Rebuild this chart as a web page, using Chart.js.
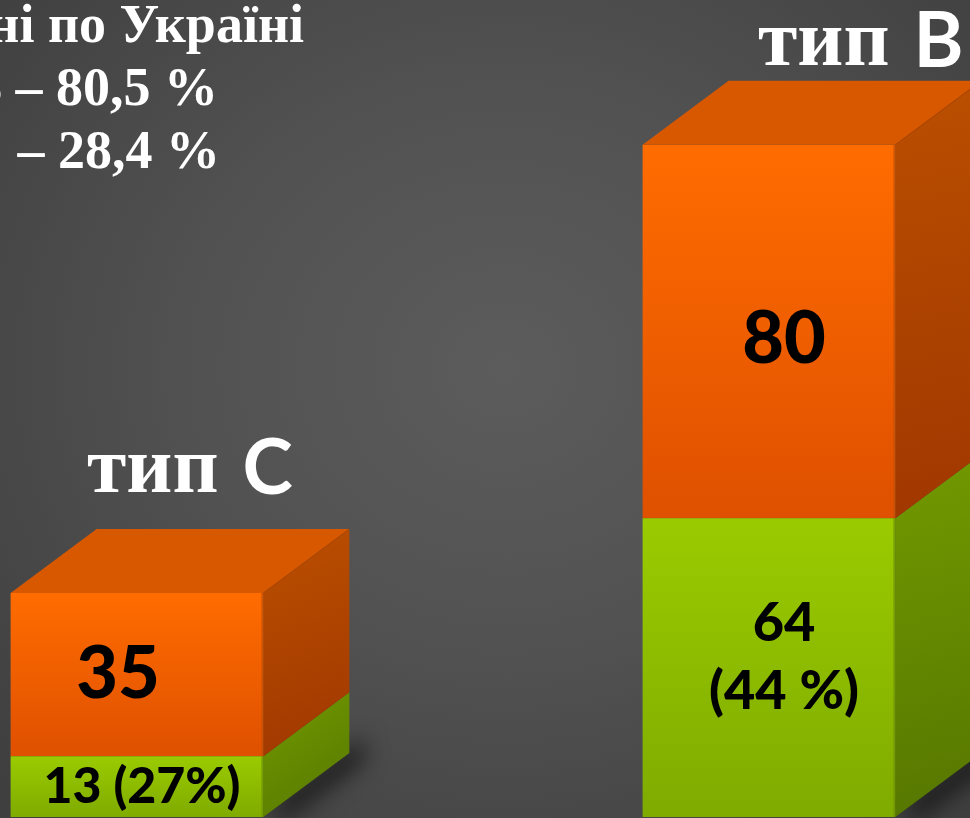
<!DOCTYPE html>
<html>
<head>
<meta charset="utf-8">
<script src="https://cdn.jsdelivr.net/npm/chart.js@4.4.1/dist/chart.umd.min.js"></script>
<style>
  html, body { margin: 0; padding: 0; }
  body {
    width: 970px; height: 818px; overflow: hidden;
    background: radial-gradient(ellipse 70% 75% at 52% 45%, #5c5c5c 0%, #525252 45%, #3f3f3f 100%);
  }
  #wrap { position: relative; width: 970px; height: 818px; }
</style>
</head>
<body>
<div id="wrap"><canvas id="chart" width="970" height="818"></canvas></div>
<script>
// data
const categories = ['тип С', 'тип В'];
const greenValues = [13, 64];
const orangeValues = [35, 80];
const greenLabels = [['13 (27%)'], ['64', '(44 %)']];
const summaryLines = ['Середні по Україні', 'тип В – 80,5 %', 'тип С – 28,4 %'];

const DEPTH_X = 86, DEPTH_Y = -64;
const SERIF = '"Liberation Serif", "Times New Roman", serif';
const SANS = 'Lato, "DejaVu Sans", sans-serif';

// front face gradient for one stacked segment
function frontFill(topColor, bottomColor) {
    return (c) => {
        const chart = c.chart;
        const y = chart.scales.y;
        if (!y || c.type !== 'data') return topColor;
        let start = 0;
        for (let d = 0; d < c.datasetIndex; d++) start += chart.data.datasets[d].data[c.dataIndex];
        const end = start + chart.data.datasets[c.datasetIndex].data[c.dataIndex];
        const y0 = y.getPixelForValue(end), y1 = y.getPixelForValue(start);
        if (!isFinite(y0) || !isFinite(y1) || y0 === y1) return topColor;
        const g = chart.ctx.createLinearGradient(0, y0, 0, y1);
        g.addColorStop(0, topColor);
        g.addColorStop(1, bottomColor);
        return g;
    };
}

const cube3d = {
    id: 'cube3d',
    beforeDatasetsDraw(chart) {
        // soft ground shadow at the foot of each column
        const ctx = chart.ctx;
        const last = chart.data.datasets.length - 1;
        chart.getDatasetMeta(last).data.forEach(bar => {
            const right = bar.x + bar.width / 2;
            const base = chart.scales.y.getPixelForValue(0);
            const from = base + DEPTH_Y - 20;
            ctx.save();
            ctx.shadowColor = 'rgba(0,0,0,0.8)';
            ctx.shadowBlur = 24;
            ctx.shadowOffsetX = 14;
            ctx.shadowOffsetY = 6;
            ctx.fillStyle = '#2e2e2e';
            ctx.beginPath();
            ctx.moveTo(right, from - DEPTH_Y);
            ctx.lineTo(right + DEPTH_X, from);
            ctx.lineTo(right + DEPTH_X, base + DEPTH_Y);
            ctx.lineTo(right, base);
            ctx.closePath();
            ctx.fill();
            ctx.restore();
        });
    },
    afterDatasetsDraw(chart) {
        const ctx = chart.ctx;
        const last = chart.data.datasets.length - 1;
        chart.data.datasets.forEach((ds, di) => {
            chart.getDatasetMeta(di).data.forEach(bar => {
                const left = bar.x - bar.width / 2;
                const right = bar.x + bar.width / 2;
                const top = bar.y, bottom = bar.base;

                // side face
                const sg = ctx.createLinearGradient(right, top + DEPTH_Y, right + DEPTH_X, bottom);
                sg.addColorStop(0, ds.sideTop);
                sg.addColorStop(1, ds.sideBottom);
                ctx.save();
                ctx.fillStyle = sg;
                ctx.beginPath();
                ctx.moveTo(right, top);
                ctx.lineTo(right + DEPTH_X, top + DEPTH_Y);
                ctx.lineTo(right + DEPTH_X, bottom + DEPTH_Y);
                ctx.lineTo(right, bottom);
                ctx.closePath();
                ctx.fill();

                // thin edge between front and side
                ctx.fillStyle = ds.edgeColor;
                ctx.fillRect(right - 2, top, 2, bottom - top);

                // top face only on the highest segment
                if (di === last) {
                    ctx.fillStyle = ds.topColor;
                    ctx.beginPath();
                    ctx.moveTo(left, top);
                    ctx.lineTo(left + DEPTH_X, top + DEPTH_Y);
                    ctx.lineTo(right + DEPTH_X, top + DEPTH_Y);
                    ctx.lineTo(right, top);
                    ctx.closePath();
                    ctx.fill();
                    ctx.strokeStyle = 'rgba(160,60,0,0.6)';
                    ctx.lineWidth = 1;
                    ctx.beginPath();
                    ctx.moveTo(right, top);
                    ctx.lineTo(right + DEPTH_X, top + DEPTH_Y);
                    ctx.stroke();
                }
                ctx.restore();
            });
        });
    },
    afterDraw(chart) {
        const ctx = chart.ctx;
        const greenMeta = chart.getDatasetMeta(0);
        const orangeMeta = chart.getDatasetMeta(1);
        ctx.save();
        ctx.fillStyle = '#000';
        ctx.textAlign = 'center';
        ctx.textBaseline = 'middle';

        // value labels
        const orangeNudge = [[-19, 0], [15, 8]];
        const greenNudge = [[5, 0], [15, -10]];
        orangeMeta.data.forEach((bar, i) => {
            ctx.font = `900 72px ${SANS}`;
            ctx.fillText(String(orangeValues[i]), bar.x + orangeNudge[i][0], (bar.y + bar.base) / 2 + orangeNudge[i][1]);
        });
        greenMeta.data.forEach((bar, i) => {
            const lines = greenLabels[i];
            const lh = 68;
            const cy = (bar.y + bar.base) / 2 + greenNudge[i][1];
            ctx.font = `900 ${i === 0 ? 50 : 54}px ${SANS}`;
            lines.forEach((t, k) => {
                ctx.fillText(t, bar.x + greenNudge[i][0], cy + (k - (lines.length - 1) / 2) * lh);
            });
        });

        // column titles: "тип" in serif, letter in sans
        const titleNudge = [[-50, -37], [-11, -16]];
        ctx.textAlign = 'left';
        ctx.textBaseline = 'alphabetic';
        ctx.fillStyle = '#fff';
        orangeMeta.data.forEach((bar, i) => {
            const [word, letter] = categories[i].split(' ');
            const x = bar.x + titleNudge[i][0];
            const y = bar.y + DEPTH_Y + titleNudge[i][1];
            ctx.font = `bold 80px ${SERIF}`;
            ctx.fillText(word, x, y);
            const w = ctx.measureText(word + ' ').width;
            ctx.font = `bold 76px ${SANS}`;
            ctx.fillText(letter, x + w + 4, y + 2);
        });

        // summary text block, cut by the slide crop on the left
        ctx.textAlign = 'right';
        ctx.font = `bold 54px ${SERIF}`;
        const ends = [304, 218, 220];
        summaryLines.forEach((t, k) => ctx.fillText(t, ends[k], 42 + k * 63));
        ctx.restore();
    }
};

new Chart(document.getElementById('chart'), {
    type: 'bar',
    data: {
        labels: categories,
        datasets: [
            {
                label: 'green',
                data: greenValues,
                backgroundColor: frontFill('#9acb00', '#7fab00'),
                sideTop: '#729a00', sideBottom: '#567600',
                edgeColor: 'rgba(110,150,0,0.8)',
                borderWidth: 0,
                clip: false
            },
            {
                label: 'orange',
                data: orangeValues,
                backgroundColor: frontFill('#ff6c00', '#df5000'),
                sideTop: '#bb4f00', sideBottom: '#a03700',
                topColor: '#d85800',
                edgeColor: 'rgba(200,80,0,0.8)',
                borderWidth: 0,
                clip: false
            }
        ]
    },
    options: {
        responsive: false,
        animation: false,
        layout: { padding: { left: 137, right: 201, top: 0, bottom: 1 } },
        datasets: { bar: { categoryPercentage: 1, barPercentage: 0.4 } },
        scales: {
            x: { stacked: true, offset: false, display: false },
            y: { stacked: true, min: 0, max: 175, display: false }
        },
        plugins: { legend: { display: false }, tooltip: { enabled: false } }
    },
    plugins: [cube3d]
});
</script>
</body>
</html>
